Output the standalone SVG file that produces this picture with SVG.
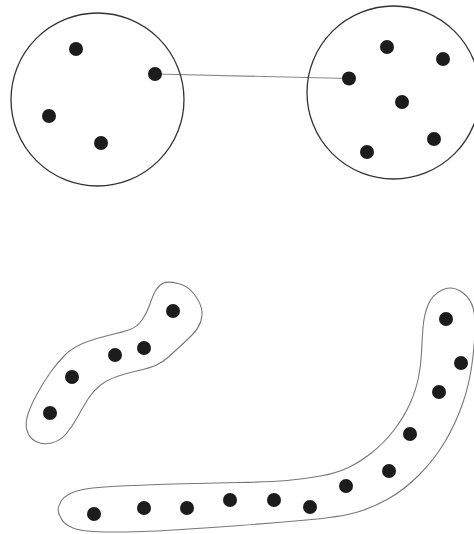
<svg xmlns="http://www.w3.org/2000/svg" width="474" height="534" viewBox="0 0 474 534">
<style>
.ring{fill:none;stroke:#333;stroke-width:1.3}
.blob{fill:none;stroke:#777;stroke-width:1.1}
.dot{fill:#1c1c1c}
.edge{stroke:#888;stroke-width:1.1;fill:none}
</style>
<rect width="474" height="534" fill="#fff"/>
<g id="connectors">
<line class="edge" x1="155" y1="74" x2="349" y2="78.5"/>
</g>
<g id="cluster-left">
<circle class="ring" cx="97.5" cy="99.5" r="86.5"/>
<circle class="dot" cx="76" cy="49" r="7"/>
<circle class="dot" cx="155" cy="74" r="7"/>
<circle class="dot" cx="49" cy="116" r="7"/>
<circle class="dot" cx="101" cy="143" r="7"/>
</g>
<g id="cluster-right">
<circle class="ring" cx="393.5" cy="92.5" r="86.5"/>
<circle class="dot" cx="387" cy="47" r="7"/>
<circle class="dot" cx="443" cy="59" r="7"/>
<circle class="dot" cx="349" cy="78.5" r="7"/>
<circle class="dot" cx="402" cy="102" r="7"/>
<circle class="dot" cx="434" cy="139" r="7"/>
<circle class="dot" cx="367" cy="152" r="7"/>
</g>
<g id="chain-small">
<path class="blob" d="M163.5,283 Q168,281 178,283.5 Q188,286 194,294 Q200,302 201.5,308.5 Q203,315 200.5,322 Q198,329 192.5,334.5 Q187,340 180.5,346 Q174,352 168.5,357 Q163,362 156.5,365 Q150,368 138.5,370.5 Q127,373 117,376.5 Q107,380 100,385.5 Q93,391 88,399 Q83,407 77.5,417 Q72,427 66,434 Q60,441 51.5,443 Q43,445 36,441.5 Q29,438 27,430.5 Q25,423 28,414 Q31,405 37,394 Q43,383 50,373 Q57,363 65,355 Q73,347 85,342.5 Q97,338 110,335 Q123,332 130,329.5 Q137,327 142,320 Q147,313 150,304 Q153,295 156,290 Q159,285 163.5,283 Z"/>
<circle class="dot" cx="173" cy="311" r="7"/>
<circle class="dot" cx="144" cy="348" r="7"/>
<circle class="dot" cx="115" cy="355" r="7"/>
<circle class="dot" cx="72" cy="377" r="7"/>
<circle class="dot" cx="50" cy="413" r="7"/>
</g>
<g id="chain-large">
<path class="blob" d="M60,503.5 Q56,510 60.5,517 Q63,524 73,528 Q83,532 111.5,532 Q140,532 173.5,530 Q207,528 240,525.5 Q273,523 306.5,520 Q340,517 356,512.5 Q372,508 388,499 Q404,490 419,475 Q434,460 444.5,442.5 Q455,425 462.5,404 Q470,383 473,356.5 Q476,330 474.5,315 Q473,300 462.5,292.5 Q452,285 442,290 Q432,295 428,305 Q424,315 423,327.5 Q422,340 421.5,352.5 Q421,365 418.5,377.5 Q416,390 410,403.5 Q404,417 394,430 Q384,443 372,452.5 Q360,462 348.5,467.5 Q337,473 320.5,476 Q304,479 287,480.5 Q270,482 238.5,482.5 Q207,483 173.5,484 Q140,485 111.5,486.5 Q83,488 72.5,492.5 Q62,497 60,503.5 Z"/>
<circle class="dot" cx="446" cy="319" r="7"/>
<circle class="dot" cx="461" cy="363" r="7"/>
<circle class="dot" cx="439" cy="392" r="7"/>
<circle class="dot" cx="410" cy="434" r="7"/>
<circle class="dot" cx="389" cy="471" r="7"/>
<circle class="dot" cx="346" cy="486" r="7"/>
<circle class="dot" cx="310" cy="507" r="7"/>
<circle class="dot" cx="274" cy="500" r="7"/>
<circle class="dot" cx="230" cy="500" r="7"/>
<circle class="dot" cx="187" cy="508" r="7"/>
<circle class="dot" cx="144" cy="508" r="7"/>
<circle class="dot" cx="94" cy="514" r="7"/>
</g>
</svg>
